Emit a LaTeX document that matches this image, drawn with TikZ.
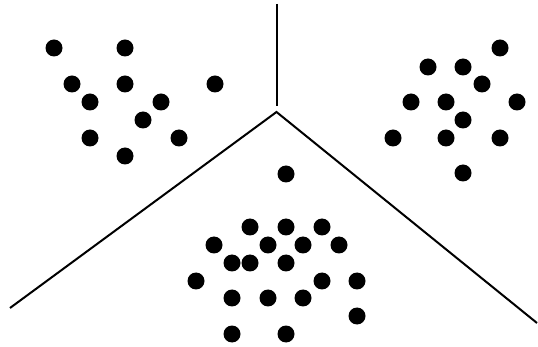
\documentclass[tikz,border=0pt]{standalone}
\begin{document}
\begin{tikzpicture}[x=1pt,y=-1pt,
  dot/.style={circle,fill=black,inner sep=0pt,minimum size=17pt},
  wall/.style={line width=2pt,black}]
\useasboundingbox (0,0) rectangle (538,347);
\coordinate (v) at (276.5,112);
\coordinate (top) at (276.5,4);
\coordinate (vt) at (276.5,106);
\coordinate (l) at (10,308);
\coordinate (r) at (537,323);
\draw[wall] (top) -- (vt);
\draw[wall] (l) -- (v) -- (r);
% left cluster
\foreach \n/\p in {a1/{54,48},a2/{125,48},a3/{72,84},a4/{125,84},a5/{215,84},a6/{90,102},a7/{161,102},a8/{143,120},a9/{90,138},a10/{179,138},a11/{125,156}}
  \node[dot] (\n) at (\p) {};
% right cluster
\foreach \n/\p in {b1/{500,48},b2/{428,67},b3/{463,67},b4/{482,84},b5/{411,102},b6/{446,102},b7/{517,102},b8/{463,120},b9/{393,138},b10/{446,138},b11/{500,138},b12/{463,173}}
  \node[dot] (\n) at (\p) {};
% bottom cluster
\foreach \n/\p in {c1/{286,174},c2/{250,227},c3/{286,227},c4/{322,227},c5/{214,245},c6/{268,245},c7/{303,245},c8/{339,245},c9/{232,263},c10/{250,263},c11/{286,263},c12/{196,281},c13/{322,281},c14/{357,281},c15/{232,298},c16/{268,298},c17/{303,298},c18/{357,316},c19/{232,334},c20/{286,334}}
  \node[dot] (\n) at (\p) {};
\end{tikzpicture}
\end{document}
